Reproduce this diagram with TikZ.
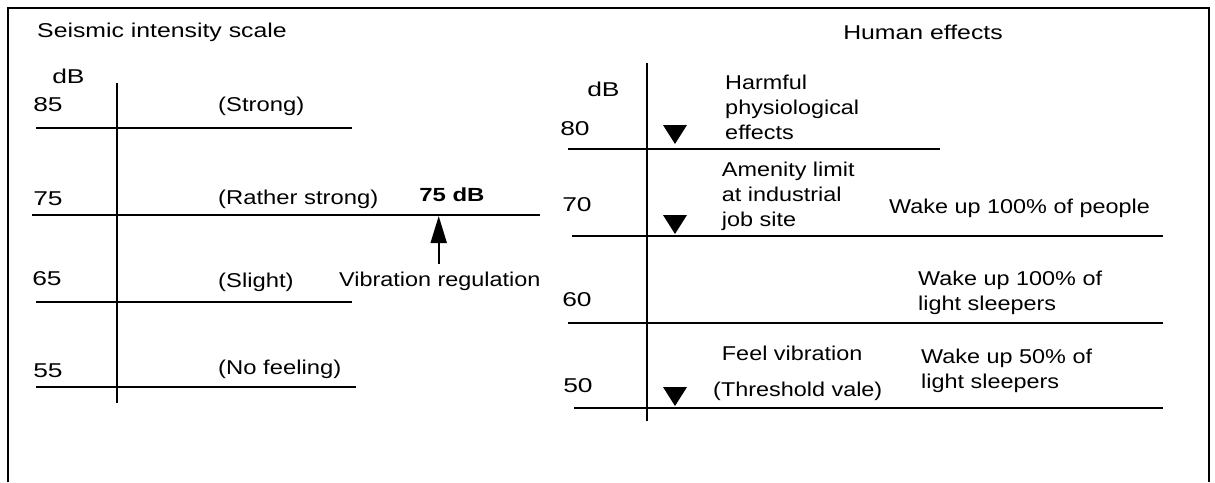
\documentclass[tikz,border=0pt]{standalone}
\usepackage{fontspec}
\setmainfont{Liberation Sans}
\usetikzlibrary{arrows.meta}
\begin{document}
\begin{tikzpicture}[x=1pt,y=-1pt,
  rule/.style={line width=1.9pt},
  frame/.style={line width=1.9pt},
  ttl/.style={font=\fontsize{20}{24}\selectfont,xscale=1.24,inner sep=0pt,anchor=base west},
  lbl/.style={font=\fontsize{20}{25}\selectfont,xscale=1.17,inner sep=0pt,anchor=base west,align=left},
  lftlbl/.style={font=\fontsize{20}{24}\selectfont,xscale=1.19,inner sep=0pt,anchor=base west},
  num/.style={font=\fontsize{20}{24}\selectfont,xscale=1.32,inner sep=0pt,anchor=base west},
  bold/.style={font=\bfseries\fontsize{19}{22}\selectfont,xscale=1.26,inner sep=0pt,anchor=base west},
  tri/.style={fill=black},
  uparrow/.style={line width=1.9pt,-{Triangle[length=27pt,width=16pt]}}
]
\useasboundingbox (0,0) rectangle (1215,482);

% open frame
\draw[frame] (8,482) -- (8,8) -- (1209,8) -- (1209,482);

% ---------- seismic intensity scale ----------
\node[ttl] (tleft) at (37,37.7) {Seismic intensity scale};
\node[num] (dbl) at (52,83.5) {dB};
\draw[rule] (117,83) -- (117,403);
\draw[rule] (36,127.7) -- (352,127.7);
\draw[rule] (32,215) -- (540,215);
\draw[rule] (36,301.7) -- (352,301.7);
\draw[rule] (36,387.3) -- (356,387.3);

\node[num] (n85) at (33,111) {85};
\node[num] (n75) at (33,205) {75};
\node[num] (n65) at (32,285) {65};
\node[num] (n55) at (33,377.5) {55};

\node[lftlbl] (strong) at (218,111) {(Strong)};
\node[lftlbl] (rstrong) at (218,204) {(Rather strong)};
\node[lftlbl] (slight) at (218,287) {(Slight)};
\node[lftlbl] (nofeel) at (218,374) {(No feeling)};

\node[bold] (reg75) at (419,201) {75 dB};
\node[lbl] (vreg) at (339,286) {Vibration regulation};
\coordinate (atail) at (438.7,264);
\coordinate (ahead) at (438.7,216);
\draw[uparrow] (atail) -- (ahead);

% ---------- human effects ----------
\node[ttl] (tright) at (843,39) {Human effects};
\node[num] (dbr) at (587,96) {dB};
\draw[rule] (647.3,63) -- (647.3,421);
\draw[rule] (568,149.3) -- (940,149.3);
\draw[rule] (572,236) -- (1163,236);
\draw[rule] (568,323.3) -- (1163,323.3);
\draw[rule] (574,408.3) -- (1163,408.3);

\node[num] (n80) at (560,135) {80};
\node[num] (n70) at (562,211.7) {70};
\node[num] (n60) at (562,306) {60};
\node[num] (n50) at (563,392) {50};

\fill[tri] (675,144) -- (663,125) -- (687,125) -- cycle;
\fill[tri] (675,234) -- (663,215) -- (687,215) -- cycle;
\fill[tri] (675,406) -- (663,387) -- (687,387) -- cycle;

% multi-line blocks are placed by the baseline of their last line
\node[lbl] (harm) at (725,139.3) {Harmful\\physiological\\effects};
\node[lbl] (amen) at (721.7,226.5) {Amenity limit\\at industrial\\job site};
\node[lbl] (wake1) at (889,213) {Wake up 100\% of people};
\node[lbl] (wake2) at (918,310) {Wake up 100\% of\\light sleepers};
\node[lbl] (feel) at (721.7,360) {Feel vibration};
\node[lbl] (thr) at (713,396) {(Threshold vale)};
\node[lbl] (wake3) at (921,388) {Wake up 50\% of\\light sleepers};
\end{tikzpicture}
\end{document}
